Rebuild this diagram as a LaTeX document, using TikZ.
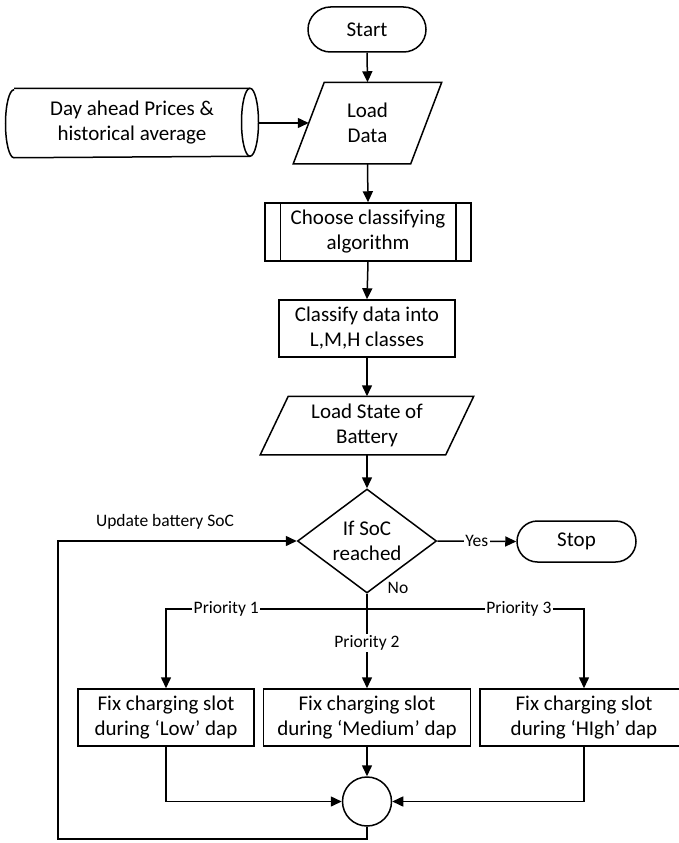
\documentclass[tikz,border=0pt]{standalone}
\usepackage{fontspec}
\setmainfont{Carlito}
\usetikzlibrary{shapes.geometric,shapes.misc,arrows.meta}
\tikzset{
  base/.style={line width=1.5pt, font=\fontsize{21}{25}\selectfont, align=center, inner sep=0pt},
  boxnode/.style={base, draw, rectangle, minimum height=57pt},
  plainnode/.style={base, rectangle},
  term/.style={base, draw, rounded rectangle},
  decision/.style={base, draw, diamond, aspect=1.337, minimum width=139pt, minimum height=104pt},
  junction/.style={base, draw, circle, minimum size=49pt},
  lbl/.style={fill=white, font=\fontsize{17.5}{20}\selectfont, inner sep=1.5pt},
  arr/.style={line width=1.5pt, -{Triangle[length=11pt,width=10pt]}},
  ln/.style={line width=1.5pt},
}
\begin{document}
\begin{tikzpicture}[x=1pt,y=-1pt]
\useasboundingbox (0,0) rectangle (679,843);
% nodes
\node[term, minimum width=118pt, minimum height=45pt] (start) at (367,29.5) {Start};
\node[plainnode, minimum width=147pt, minimum height=80pt] (ld) at (367.5,123) {Load\\Data};
\node[plainnode, minimum width=251.5pt, minimum height=68pt] (dap) at (132,123) {Day ahead Prices \&\\historical average};
\node[boxnode, minimum width=206pt, minimum height=58pt] (cho) at (368,232) {Choose classifying\\algorithm};
\node[boxnode, minimum width=176pt] (cls) at (367,328.5) {Classify data into\\L,M,H classes};
\node[plainnode, minimum width=212pt, minimum height=57pt] (ls) at (367,425.5) {Load State of\\Battery};
\node[decision] (dec) at (367,541) {If SoC\\reached};
\node[term, minimum width=119pt, minimum height=41pt] (stop) at (576.5,541.5) {Stop};
\coordinate (j) at (367,609);
\node[boxnode, minimum width=176pt] (low) at (166,717.5) {Fix charging slot\\during ‘Low’ dap};
\node[boxnode, minimum width=207pt] (med) at (367,717.5) {Fix charging slot\\during ‘Medium’ dap};
\node[boxnode, minimum width=208pt] (high) at (584,717.5) {Fix charging slot\\during ‘HIgh’ dap};
\node[junction] (cir) at (367,801.5) {};
\coordinate (lb) at (58,839);
\node[lbl, fill=none] (upd) at (165,522) {Update battery SoC};
\node[lbl, fill=none] (no) at (398,588) {No};
% shapes drawn by hand
\draw[ln] (ld.south west) -- ([xshift=31pt]ld.north west) -- (ld.north east) -- ([xshift=-31pt]ld.south east) -- cycle;
\draw[ln] (ls.south west) -- ([xshift=28pt]ls.north west) -- (ls.north east) -- ([xshift=-28pt]ls.south east) -- cycle;
\draw[ln] ([xshift=8.5pt]dap.north west) -- ([xshift=-8.5pt]dap.north east)
  arc[start angle=90, end angle=-90, x radius=8.5pt, y radius=34pt]
  -- ([xshift=8.5pt]dap.south west)
  arc[start angle=270, end angle=90, x radius=8.5pt, y radius=34pt];
\draw[ln] ([xshift=-8.5pt]dap.north east) arc[start angle=90, end angle=270, x radius=8.5pt, y radius=34pt];
\draw[ln] ([xshift=16pt]cho.north west) -- ([xshift=16pt]cho.south west);
\draw[ln] ([xshift=-16pt]cho.north east) -- ([xshift=-16pt]cho.south east);
% connectors
\draw[arr] (start.south) -- (ld.north);
\draw[arr] (dap.east) -- ([xshift=15.5pt]ld.west);
\draw[arr] (ld.south) -- (cho.north);
\draw[arr] (cho.south) -- (cls.north);
\draw[arr] (cls.south) -- (ls.north);
\draw[arr] (ls.south) -- (dec.north);
\draw[arr] (dec.east) -- node[lbl]{Yes} (stop.west);
\draw[ln] (dec.south) -- (j);
\draw[arr] (j) -| node[lbl, pos=0.35]{Priority 1} (low.north);
\draw[arr] (j) -| node[lbl, pos=0.35]{Priority 3} (high.north);
\draw[arr] (j) -- node[lbl, pos=0.43]{Priority 2} (med.north);
\draw[arr] (low.south) |- (cir.west);
\draw[arr] (high.south) |- (cir.east);
\draw[arr] (med.south) -- (cir.north);
\draw[arr] (cir.south) |- (lb) |- (dec.west);
\end{tikzpicture}
\end{document}
